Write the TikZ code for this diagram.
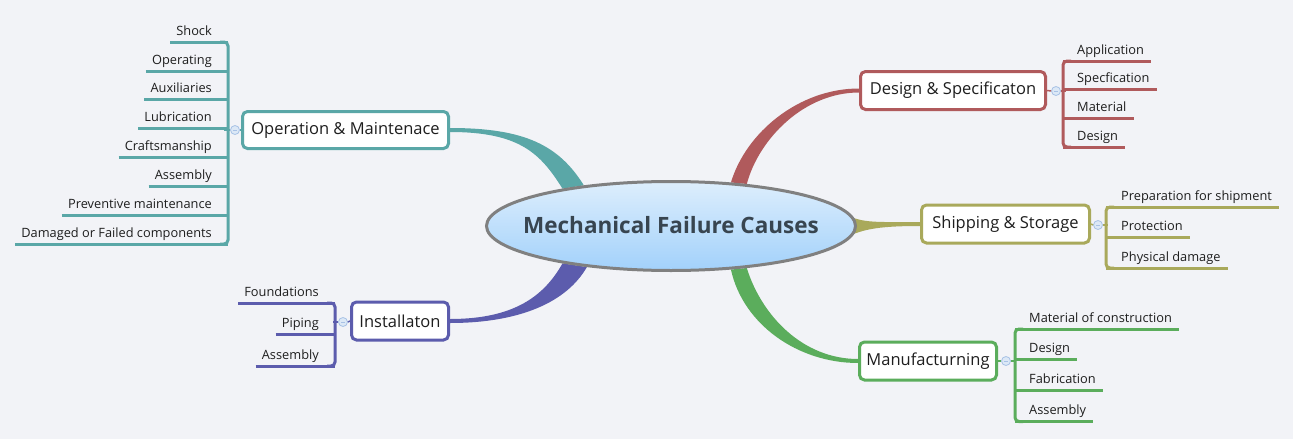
\documentclass[tikz,border=0pt]{standalone}
\usepackage{fontspec}
\setmainfont{Open Sans}
\usetikzlibrary{shapes.geometric,calc}
\definecolor{bg}{HTML}{F2F3F7}
\definecolor{cteal}{HTML}{5AA7A7}
\definecolor{cred}{HTML}{B05A5C}
\definecolor{colive}{HTML}{A9A95B}
\definecolor{cgreen}{HTML}{5BAD5C}
\definecolor{cblue}{HTML}{5C5CAD}
\definecolor{txt}{HTML}{1E1E1E}
\definecolor{ctitle}{HTML}{384550}
\definecolor{eTop}{HTML}{DDEEFC}
\definecolor{eBot}{HTML}{A2D1FB}
\definecolor{eLine}{HTML}{808080}
\definecolor{knobF}{HTML}{DCE8F6}
\definecolor{knobD}{HTML}{A8C2E6}
\pgfdeclarelayer{bglayer}
\pgfdeclarelayer{conn}
\pgfsetlayers{bglayer,conn,main}
\begin{document}
\begin{tikzpicture}[x=1pt,y=-1pt,
  topic/.style={draw=#1, line width=3pt, rounded corners=5pt, fill=white, inner sep=0pt,
    font=\fontsize{16.5}{18}\selectfont, text=txt},
  leafL/.style={anchor=base east, inner sep=0pt, font=\fontsize{12.8}{15}\selectfont, text=txt},
  leafR/.style={anchor=base west, inner sep=0pt, font=\fontsize{12.8}{15}\selectfont, text=txt},
  bracket/.style={draw=#1, line width=3pt, rounded corners=4pt},
  leafline/.style={draw=#1, line width=3pt},
  stub/.style={draw=#1, line width=1.5pt},
  knob/.style={circle, draw=knobD, fill=knobF, line width=0.8pt, minimum size=9pt, inner sep=0pt,
    path picture={\draw[knobD, line width=0.8pt] ([xshift=-2pt]path picture bounding box.center) -- ([xshift=2pt]path picture bounding box.center);}},
  taper/.style={fill=#1, draw=none}
]
\begin{pgfonlayer}{bglayer}
\fill[bg] (0,0) rectangle (1293,439);
\end{pgfonlayer}
\useasboundingbox (0,0) rectangle (1293,439);

% central topic
\node[ellipse, draw=eLine, line width=3pt, top color=eTop, bottom color=eBot,
  minimum width=369pt, minimum height=89pt, inner sep=0pt,
  font=\bfseries\fontsize{22.5}{24}\selectfont, text=ctitle] (c) at (671,226)
  {\makebox[0pt]{\raisebox{-0.35em}[0pt][0pt]{Mechanical Failure Causes}}};

% main topics
\node[topic=cteal, minimum width=206pt, minimum height=37pt] (om) at (345.5,130) {Operation \& Maintenace};
\node[topic=cred, minimum width=185pt, minimum height=38pt] (ds) at (953,90.5) {Design \& Specificaton};
\node[topic=colive, minimum width=168pt, minimum height=38pt] (sh) at (1005.5,224) {Shipping \& Storage};
\node[topic=cgreen, minimum width=137pt, minimum height=38pt] (mf) at (928,361) {Manufacturning};
\node[topic=cblue, minimum width=97pt, minimum height=38pt] (in) at (400,321) {Installaton};

% tapered connectors
\begin{pgfonlayer}{conn}
\path[taper=cteal] ([yshift=2pt]om.east) .. controls +(75,0) and +(-25,-40) .. (c.155)
  -- (c.161) .. controls +(-22,-35) and +(70,0) .. ([yshift=-2pt]om.east) -- cycle;
\path[taper=cred] (c.36) .. controls +(15,-50) and +(-60,0) .. ([yshift=2pt]ds.west)
  -- ([yshift=-2pt]ds.west) .. controls +(-55,0) and +(12,-45) .. (c.29) -- cycle;
\path[taper=colive] ([xshift=-6pt,yshift=9pt]c.east) .. controls +(15,6) and +(-40,0) .. ([yshift=2pt]sh.west)
  -- ([yshift=-2pt]sh.west) .. controls +(-40,0) and +(15,-6) .. ([xshift=-6pt,yshift=-9pt]c.east) -- cycle;
\path[taper=cgreen] (c.-36) .. controls +(12,55) and +(-60,0) .. ([yshift=-2pt]mf.west)
  -- ([yshift=2pt]mf.west) .. controls +(-55,0) and +(15,48) .. (c.-29) -- cycle;
\path[taper=cblue] ([yshift=2pt]in.east) .. controls +(65,0) and +(-18,32) .. (c.-161)
  -- (c.-154) .. controls +(-20,35) and +(70,0) .. ([yshift=-2pt]in.east) -- cycle;
\end{pgfonlayer}

% Operation & Maintenance leaves
\node[leafL] (om1) at (212,35) {Shock};
\node[leafL] (om2) at (212,64) {Operating};
\node[leafL] (om3) at (212,92) {Auxiliaries};
\node[leafL] (om4) at (212,121) {Lubrication};
\node[leafL] (om5) at (212,150) {Craftsmanship};
\node[leafL] (om6) at (212,179) {Assembly};
\node[leafL] (om7) at (212,208) {Preventive maintenance};
\node[leafL] (om8) at (212,237) {Damaged or Failed components};
\foreach \i in {1,...,8}{\draw[leafline=cteal] ($(om\i.base west)+(-6,7)$) -- ($(om\i.base east)+(16,7)$);}
\draw[bracket=cteal] ($(om1.base east)+(8,7)$) -- ($(om1.base east)+(16,7)$) -- ($(om8.base east)+(16,7)$) -- ($(om8.base east)+(8,7)$);
\node[knob] (omk) at (235,130) {};
\draw[stub=cteal] (om.west) -- (omk.east);
\draw[stub=cteal] (omk.west) -- ++(-6,0);

% Design & Specification leaves
\node[leafR] (ds1) at (1077,54) {Application};
\node[leafR] (ds2) at (1077,82) {Specfication};
\node[leafR] (ds3) at (1077,111) {Material};
\node[leafR] (ds4) at (1077,140) {Design};
\foreach \i in {1,...,4}{\draw[leafline=cred] ($(ds\i.base west)+(-14,7)$) -- ($(ds\i.base east)+(7,7)$);}
\draw[bracket=cred] ($(ds1.base west)+(-6,7)$) -- ($(ds1.base west)+(-14,7)$) -- ($(ds4.base west)+(-14,7)$) -- ($(ds4.base west)+(-6,7)$);
\node[knob] (dsk) at (1056,91) {};
\draw[stub=cred] (ds.east) -- (dsk.west);
\draw[stub=cred] (dsk.east) -- ++(5,0);

% Shipping & Storage leaves
\node[leafR] (sh1) at (1121,200) {Preparation for shipment};
\node[leafR] (sh2) at (1121,230.5) {Protection};
\node[leafR] (sh3) at (1121,261) {Physical damage};
\foreach \i in {1,...,3}{\draw[leafline=colive] ($(sh\i.base west)+(-15,7)$) -- ($(sh\i.base east)+(7,7)$);}
\draw[bracket=colive] ($(sh1.base west)+(-7,7)$) -- ($(sh1.base west)+(-15,7)$) -- ($(sh3.base west)+(-15,7)$) -- ($(sh3.base west)+(-7,7)$);
\node[knob] (shk) at (1098,225) {};
\draw[stub=colive] (sh.east) -- (shk.west);
\draw[stub=colive] (shk.east) -- ++(5,0);

% Manufacturing leaves
\node[leafR] (mf1) at (1029,322) {Material of construction};
\node[leafR] (mf2) at (1029,352) {Design};
\node[leafR] (mf3) at (1029,383.5) {Fabrication};
\node[leafR] (mf4) at (1029,414.5) {Assembly};
\foreach \i in {1,...,4}{\draw[leafline=cgreen] ($(mf\i.base west)+(-14,7)$) -- ($(mf\i.base east)+(7,7)$);}
\draw[bracket=cgreen] ($(mf1.base west)+(-6,7)$) -- ($(mf1.base west)+(-14,7)$) -- ($(mf4.base west)+(-14,7)$) -- ($(mf4.base west)+(-6,7)$);
\node[knob] (mfk) at (1006,361) {};
\draw[stub=cgreen] (mf.east) -- (mfk.west);
\draw[stub=cgreen] (mfk.east) -- ++(5,0);

% Installation leaves
\node[leafL] (in1) at (319,296) {Foundations};
\node[leafL] (in2) at (319,327) {Piping};
\node[leafL] (in3) at (319,359) {Assembly};
\foreach \i in {1,...,3}{\draw[leafline=cblue] ($(in\i.base west)+(-6,7)$) -- ($(in\i.base east)+(16,7)$);}
\draw[bracket=cblue] ($(in1.base east)+(8,7)$) -- ($(in1.base east)+(16,7)$) -- ($(in3.base east)+(16,7)$) -- ($(in3.base east)+(8,7)$);
\node[knob] (ink) at (343,322) {};
\draw[stub=cblue] (in.west) -- (ink.east);
\draw[stub=cblue] (ink.west) -- ++(-5,0);
\end{tikzpicture}
\end{document}
